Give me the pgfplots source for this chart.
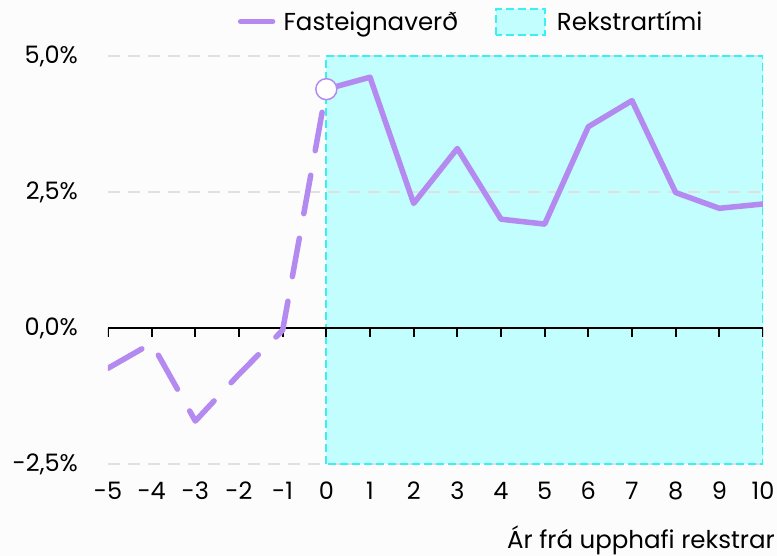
\documentclass[border=0pt]{standalone}
\usepackage{pgfplots}
\pgfplotsset{compat=1.18}
\usepackage{fontspec}
\setmainfont{Poppins}
\definecolor{lineP}{HTML}{B48AF0}
\definecolor{cyanF}{HTML}{C2FEFE}
\definecolor{cyanD}{HTML}{3CF0F0}
\definecolor{bgc}{HTML}{FCFCFC}
\definecolor{gridc}{HTML}{E0E0E0}
\begin{document}
\begin{tikzpicture}
\fill[bgc] (-108bp,-92bp) rectangle (669bp,464bp);
\begin{axis}[
  at={(0,0)}, anchor=south west,
  scale only axis, width=655bp, height=408bp,
  xmin=-5, xmax=10, ymin=-2.5, ymax=5,
  axis line style={draw=none},
  major tick length=0pt,
  xtick={-5,...,10},
  xticklabels={-5,-4,-3,-2,-1,0,1,2,3,4,5,6,7,8,9,10},
  ytick={-2.5,0,2.5,5},
  yticklabels={{-2,5\%},{0,0\%},{2,5\%},{5,0\%}},
  font=\fontsize{24.5bp}{28bp}\selectfont,
  ticklabel style={font=\fontsize{24bp}{28bp}\selectfont},
  yticklabel style={anchor=east, inner sep=0pt, xshift=-30bp},
  xticklabel style={anchor=base, inner sep=0pt, yshift=-35bp},
  xlabel={Ár frá upphafi rekstrar},
  xlabel style={at={(rel axis cs:1,0)}, anchor=base east, inner sep=0pt, xshift=12bp, yshift=-84bp},
  legend columns=2,
  legend style={draw=none, fill=none, at={(0.198,1.119)}, anchor=north west,
    inner sep=0pt, font=\fontsize{24.5bp}{28bp}\selectfont,
    /tikz/every even column/.append style={column sep=37bp},
    nodes={inner sep=0pt}},
  legend cell align=left,
]
\addplot[fill=cyanF, draw=none, forget plot]
  coordinates {(0,-2.5) (10,-2.5) (10,5) (0,5)} -- cycle;
\pgfplotsinvokeforeach{-2.5,2.5,5}{\draw[gridc, line width=1.5bp, dash pattern=on 12bp off 8bp] (axis cs:-5,#1) -- (axis cs:10,#1);}
\draw[cyanD, line width=2bp, dash pattern=on 8bp off 4bp] (axis cs:0,-2.5) rectangle (axis cs:10,5);
\draw[black, line width=2bp] (axis cs:-5,0) -- (axis cs:10,0);
\pgfplotsinvokeforeach{-5,...,10}{\draw[black, line width=2bp] (axis cs:#1,0) -- ([yshift=-9bp]axis cs:#1,0);}
\addplot[lineP, line width=5.5bp, line cap=round, line join=round, dash pattern=on 39bp off 25bp, forget plot]
  coordinates {(-5,-0.74) (-4,-0.28) (-3,-1.71) (-2,-0.85) (-1,-0.04) (0,4.39)};
\addplot[lineP, line width=5.5bp, line join=round,
  legend image code/.code={\path[draw=none,fill=none] (-2.5bp,-12bp) rectangle (43bp,12bp); \draw[lineP, line width=5.5bp, line cap=round] (0bp,0) -- (32bp,0);}]
  coordinates {(0,4.39) (1,4.61) (2,2.29) (3,3.30) (4,2.0) (5,1.91) (6,3.70) (7,4.18) (8,2.49) (9,2.20) (10,2.28)};
\addlegendentry{Fasteignaverð}
\addplot[only marks, mark=*, mark size=10.5bp, mark options={fill=white, draw=lineP, line width=1.5bp}, forget plot]
  coordinates {(0,4.39)};
\addlegendimage{legend image code/.code={\path[draw=none,fill=none] (0bp,-13bp) rectangle (61bp,13bp); \draw[fill=cyanF, draw=cyanD, line width=2bp, dash pattern=on 8bp off 4bp] (0bp,-13bp) rectangle (49bp,13bp);}}
\addlegendentry{Rekstrartími}
\end{axis}
\pgfresetboundingbox
\path[use as bounding box] (-108bp,-92bp) rectangle (669bp,464bp);
\end{tikzpicture}
\end{document}
